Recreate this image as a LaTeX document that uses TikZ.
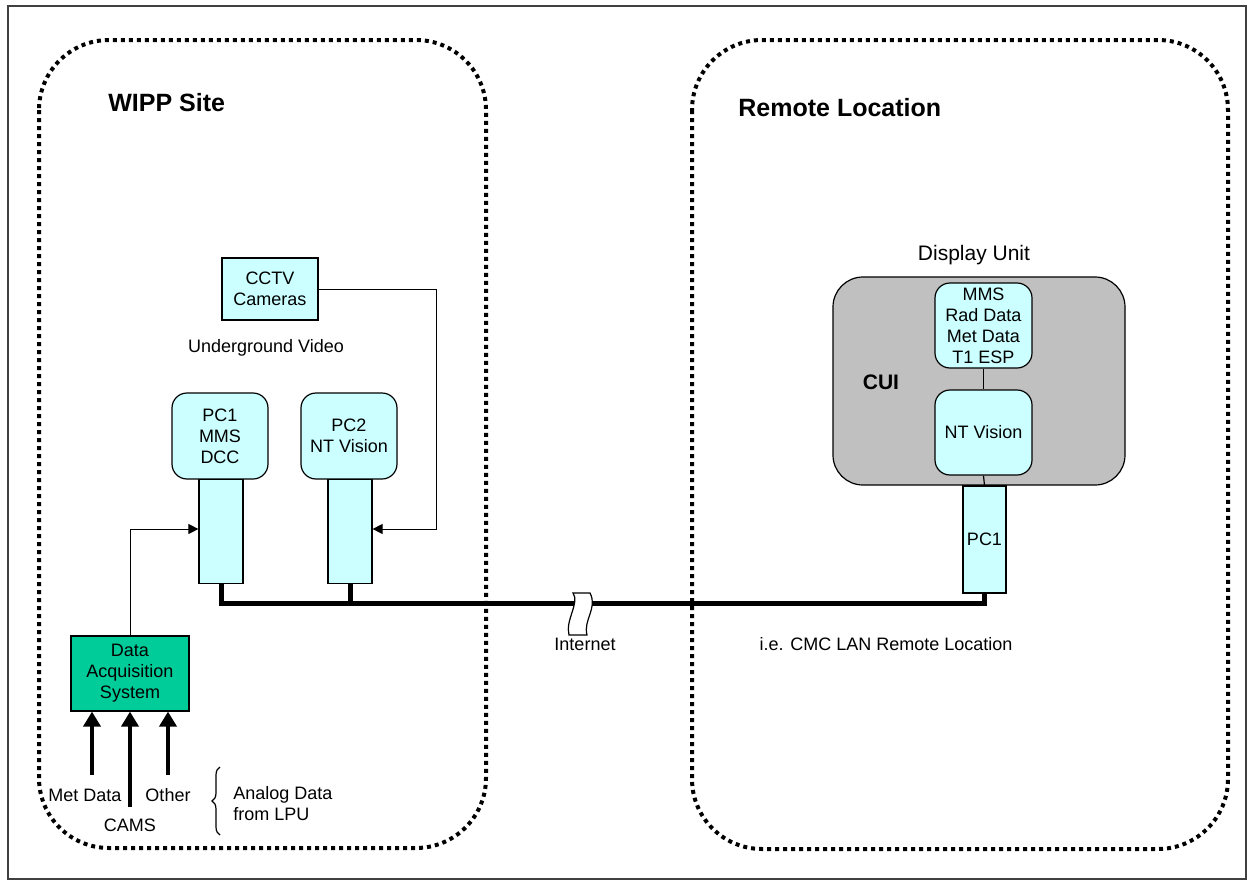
\documentclass[tikz,border=0pt]{standalone}
\usepackage{fontspec}
\setmainfont{Liberation Sans}
\usetikzlibrary{arrows.meta,decorations.pathreplacing}
\definecolor{boxcyan}{HTML}{CCFFFF}
\definecolor{dasgreen}{HTML}{00CC99}
\definecolor{cuigray}{HTML}{C0C0C0}
\definecolor{framecol}{HTML}{404040}
\tikzset{
  txt/.style={inner sep=0pt, font=\fontsize{9}{10.5}\selectfont, align=center},
  title/.style={inner sep=0pt, font=\fontsize{12.5}{14}\selectfont\bfseries},
  region/.style={line width=2pt, dash pattern=on 2pt off 2pt, rounded corners=35pt},
  cbox/.style={draw, line width=0.6pt, fill=boxcyan, inner sep=0pt, align=center, font=\fontsize{9}{10.5}\selectfont},
  pcbox/.style={cbox, rounded corners=7.5pt, minimum width=48pt, minimum height=43pt},
  tower/.style={cbox, minimum width=22pt, minimum height=52pt},
  thinarr/.style={line width=0.5pt, -{Triangle[length=5pt,width=5pt]}},
  thickarr/.style={line width=2pt, -{Triangle[length=7.5pt,width=8.5pt]}},
  busline/.style={line width=2.5pt},
  link/.style={line width=0.6pt}
}
\begin{document}
\begin{tikzpicture}[x=0.5pt,y=-0.5pt]
\useasboundingbox (0,0) rectangle (1250,884);
\draw[framecol, line width=0.6pt] (8,6) rectangle (1246,879);
% regions
\draw[region] (39,40) rectangle (486,848);
\draw[region] (692,40) rectangle (1228,849);
\node[title, anchor=west] (wipp) at (108,103) {WIPP Site};
\node[title, anchor=west] (remote) at (738,108) {Remote Location};
% WIPP nodes
\node[cbox, minimum width=48pt, minimum height=31pt] (cctv) at (270,289) {CCTV\\Cameras};
\node[txt] (ugv) at (266,348) {Underground Video};
\node[pcbox] (pc1) at (220,436) {PC1\\MMS\\DCC};
\node[tower, anchor=north] (pc1t) at (221,479) {};
\node[pcbox] (pc2) at (349,436) {PC2\\NT Vision};
\node[tower, anchor=north] (pc2t) at (350,479) {};
\node[cbox, fill=dasgreen, minimum width=59pt, minimum height=37.5pt] (das) at (130,673.5) {Data\\Acquisition\\System};
% video connector
\coordinate (vc) at (436,529);
\draw[thinarr] (cctv.east) -| (vc) -- (vc -| pc2t.east);
% DAS connector
\coordinate (dc) at (130,529);
\draw[thinarr] (das.north) -- (dc) -- (dc -| pc1t.west);
% inputs
\coordinate (inmet) at (92,775);
\coordinate (incams) at (130,807);
\coordinate (inoth) at (168,775);
\draw[thickarr] (inmet) -- (inmet |- das.south);
\draw[thickarr] (incams) -- (incams |- das.south);
\draw[thickarr] (inoth) -- (inoth |- das.south);
\node[txt] (lmet) at (85,795) {Met Data};
\node[txt] (lcams) at (130,825) {CAMS};
\node[txt] (loth) at (168,795) {Other};
\draw[line width=0.6pt, decorate, decoration={brace, amplitude=4pt}] (220,835) -- (220,767);
\node[txt, anchor=west, align=left] (analog) at (233,804) {Analog Data\\from LPU};
% remote nodes
\node[txt, font=\fontsize{10.5}{12}\selectfont] (du) at (974,255) {Display Unit};
\node[draw, line width=0.6pt, fill=cuigray, rounded corners=15pt, minimum width=146pt, minimum height=104pt] (cui) at (979,381) {};
\node[inner sep=0pt, font=\fontsize{10.5}{12}\selectfont\bfseries] (cuil) at (881,382) {CUI};
\node[cbox, rounded corners=7.5pt, minimum width=48.5pt, minimum height=42.5pt] (mms) at (983.5,325.5) {MMS\\Rad Data\\Met Data\\T1 ESP};
\node[cbox, rounded corners=7.5pt, minimum width=48.5pt, minimum height=42.5pt] (ntv) at (983.5,432.5) {NT Vision};
\node[cbox, minimum width=21.5pt, minimum height=53.5pt] (rpc1) at (984.5,539.5) {PC1};
\draw[link] (mms.south) -- (ntv.north);
\draw[link] (ntv.south) -- (rpc1.north);
% bus
\coordinate (bus) at (600,603);
\draw[busline, line join=miter] (pc1t.south) -- (pc1t.south |- bus) -- (rpc1.south |- bus) -- (rpc1.south);
\draw[busline] (pc2t.south) -- (pc2t.south |- bus);
% internet break
\draw[line width=0.6pt, fill=white] (573,593) -- (590,593)
  .. controls (598,608) and (583,620) .. (587,635) -- (569,635)
  .. controls (565,620) and (580,603) .. (573,593) -- cycle;
\node[txt] (inet) at (585,644) {Internet};
\node[txt] (lan) at (886,644) {i.e. CMC LAN Remote Location};
\end{tikzpicture}
\end{document}
